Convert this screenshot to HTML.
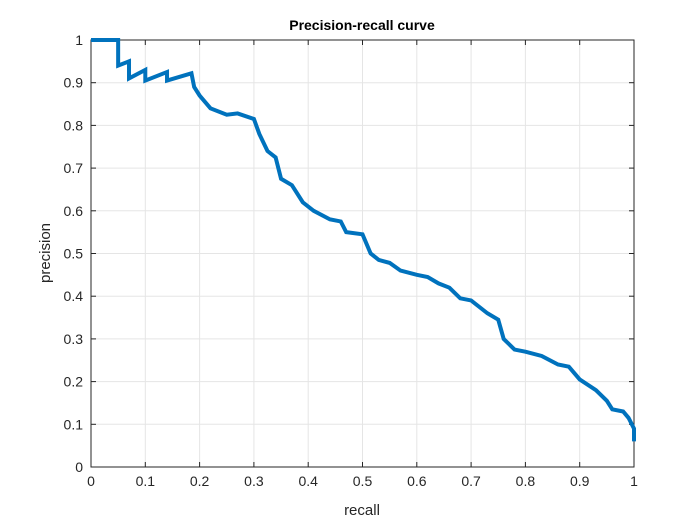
<!DOCTYPE html>
<html><head><meta charset="utf-8"><style>
body{margin:0;background:#fff;}
svg{display:block;font-family:"Liberation Sans",sans-serif;}
</style></head><body>
<svg width="700" height="525">
<rect x="0" y="0" width="700" height="525" fill="#fff"/>
<g id="grid"></g>
<g id="axes"></g>
<polyline id="curve" fill="none" stroke="#0072BD" stroke-width="4" stroke-linejoin="miter"/>
<text x="362" y="30" text-anchor="middle" font-size="14" font-weight="bold" fill="#000">Precision-recall curve</text>
<text x="362" y="515" text-anchor="middle" font-size="15" fill="#262626">recall</text>
<text x="50" y="253" text-anchor="middle" font-size="15" fill="#262626" transform="rotate(-90 50 253)">precision</text>
</svg>
<script>
const recall=[0,0.05,0.05,0.07,0.07,0.1,0.1,0.14,0.14,0.185,0.19,0.2,0.22,0.25,0.27,0.3,0.31,0.325,0.34,0.35,0.37,0.39,0.41,0.44,0.46,0.47,0.5,0.515,0.53,0.55,0.57,0.6,0.62,0.64,0.66,0.68,0.7,0.73,0.75,0.76,0.78,0.8,0.83,0.86,0.88,0.9,0.93,0.95,0.96,0.98,0.99,1,1];
const precision=[1,1,0.94,0.95,0.91,0.93,0.905,0.925,0.905,0.922,0.89,0.87,0.84,0.825,0.828,0.815,0.78,0.74,0.725,0.675,0.66,0.62,0.6,0.58,0.575,0.55,0.545,0.5,0.485,0.478,0.46,0.45,0.445,0.43,0.42,0.395,0.39,0.36,0.345,0.3,0.275,0.27,0.26,0.24,0.235,0.205,0.18,0.155,0.135,0.13,0.115,0.09,0.06];
const xTicks=[0,0.1,0.2,0.3,0.4,0.5,0.6,0.7,0.8,0.9,1];
const yTicks=[0,0.1,0.2,0.3,0.4,0.5,0.6,0.7,0.8,0.9,1];
const X0=91,X1=634,Y0=467,Y1=40;
const sx=v=>X0+v*(X1-X0), sy=v=>Y0-v*(Y0-Y1);
const NS="http://www.w3.org/2000/svg";
const grid=document.getElementById('grid'), axes=document.getElementById('axes');
function mk(tag,attrs,parent){const e=document.createElementNS(NS,tag);for(const k in attrs)e.setAttribute(k,attrs[k]);parent.appendChild(e);return e;}
xTicks.forEach(t=>{
  const g=mk('line',{x1:sx(t),x2:sx(t),y1:Y1,y2:Y0,stroke:'#e5e5e5','stroke-width':1},grid);
  
  
  mk('line',{x1:sx(t),x2:sx(t),y1:Y0,y2:Y0-5,stroke:'#262626'},axes);
  mk('line',{x1:sx(t),x2:sx(t),y1:Y1,y2:Y1+5,stroke:'#262626'},axes);
  const l=mk('text',{x:sx(t),y:Y0+19,'text-anchor':'middle','font-size':14,fill:'#262626'},axes);
  l.textContent=String(t);
  
  
});
yTicks.forEach(t=>{
  const g=mk('line',{x1:X0,x2:X1,y1:sy(t),y2:sy(t),stroke:'#e5e5e5','stroke-width':1},grid);
  
  
  mk('line',{x1:X0,x2:X0+5,y1:sy(t),y2:sy(t),stroke:'#262626'},axes);
  mk('line',{x1:X1,x2:X1-5,y1:sy(t),y2:sy(t),stroke:'#262626'},axes);
  const l=mk('text',{x:X0-8,y:sy(t)+5,'text-anchor':'end','font-size':14,fill:'#262626'},axes);
  l.textContent=String(t);
  
  
});
const box=mk('rect',{x:X0,y:Y1,width:X1-X0,height:Y0-Y1,fill:'none',stroke:'#262626','stroke-width':1},axes);


document.getElementById('curve').setAttribute('points',recall.map((r,i)=>sx(r)+','+sy(precision[i])).join(' '));
</script>
</body></html>
